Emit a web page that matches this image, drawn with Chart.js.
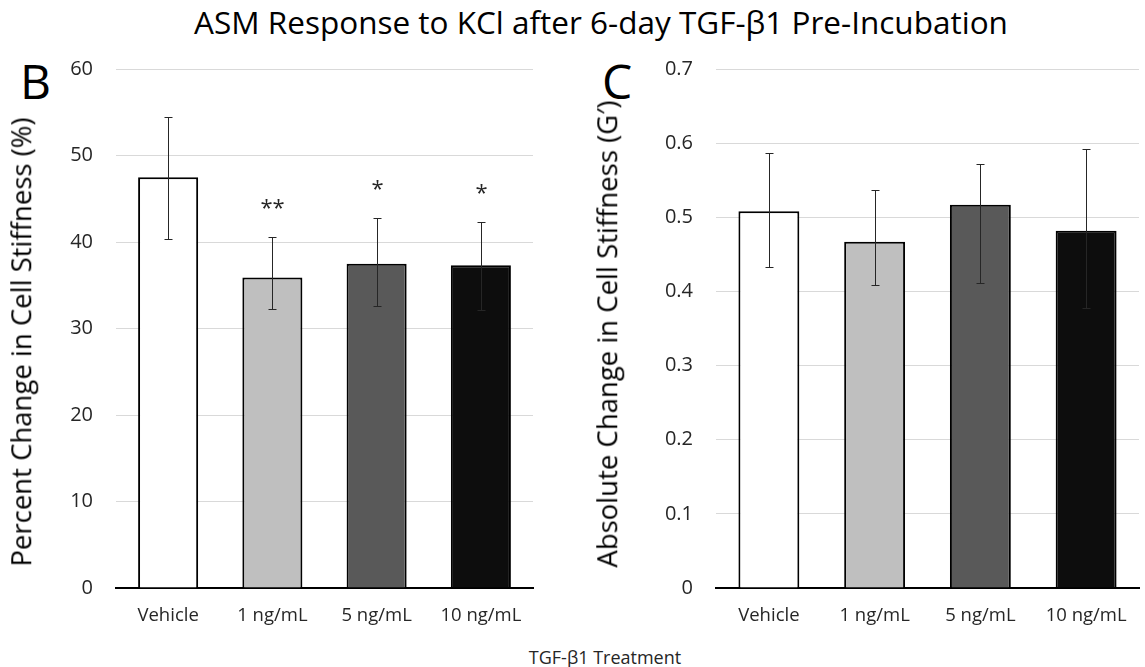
<!DOCTYPE html>
<html>
<head>
<meta charset="utf-8">
<script src="https://cdn.jsdelivr.net/npm/chart.js@4.4.1/dist/chart.umd.min.js"></script>
<style>
  html, body { margin: 0; padding: 0; background: #fff; }
  body { width: 1145px; height: 667px; position: relative; overflow: hidden; font-family: 'Open Sans', sans-serif; color: #000; }
  .title { position: absolute; left: 0; width: 1202px; top: 0px; text-align: center; font-size: 31.5px; white-space: nowrap; }
  .panel { position: absolute; font-size: 48px; line-height: 1; }
  .box { position: absolute; }
  .ytitle { position: absolute; width: 0; height: 0; }
  .ytitle span { position: absolute; left: 0; top: 0; white-space: nowrap; font-size: 27.5px; line-height: 1;
    transform: translate(-50%, -50%) rotate(-90deg); }
  .xtitle { position: absolute; left: 0; width: 1210px; top: 645px; text-align: center; font-size: 18px; color: #262626; }
</style>
</head>
<body>
<div class="title">ASM Response to KCl after 6-day TGF-β1 Pre-Incubation</div>
<div class="panel" style="left:20px;top:57px;">B</div>
<div class="panel" style="left:602px;top:57px;">C</div>
<div class="box" style="left:0px;top:34px;width:545px;height:606px;"><canvas id="pct"></canvas></div>
<div class="box" style="left:590px;top:34px;width:555px;height:606px;"><canvas id="abs"></canvas></div>
<div class="ytitle" style="left:21px;top:342px;"><span>Percent Change in Cell Stiffness (%)</span></div>
<div class="ytitle" style="left:607px;top:334px;"><span>Absolute Change in Cell Stiffness (G′)</span></div>
<div class="xtitle">TGF-β1 Treatment</div>
<script>
var categories = ['Vehicle', '1 ng/mL', '5 ng/mL', '10 ng/mL'];
var barColors = ['#ffffff', '#bfbfbf', '#595959', '#0d0d0d'];

// percent change: mean, error above, error below
var pctChange = [47.5, 35.9, 37.5, 37.3];
var pctErrUp = [6.9, 4.7, 5.3, 5.05];
var pctErrDown = [7.1, 3.7, 4.9, 5.2];
var pctMarks = ['', '**', '*', '*'];

// absolute change (G')
var absChange = [0.508, 0.467, 0.517, 0.482];
var absErrUp = [0.079, 0.070, 0.055, 0.1095];
var absErrDown = [0.075, 0.059, 0.106, 0.104];

Chart.defaults.font.family = "'Open Sans', sans-serif";
Chart.defaults.color = '#262626';

// whiskers + significance stars on top of the bars
var errorBars = {
	id: 'errorBars',
	afterDatasetsDraw: function(chart, args, opts) {
		var ctx = chart.ctx,
			y = chart.scales.y,
			meta = chart.getDatasetMeta(0);
		ctx.save();
		ctx.strokeStyle = '#262626';
		ctx.lineWidth = 1;
		meta.data.forEach(function(bar, i) {
			var v = opts.values[i];
			var top = Math.round(y.getPixelForValue(v + opts.up[i])) + 0.5,
				bot = Math.round(y.getPixelForValue(v - opts.down[i])) + 0.5,
				cx = Math.round(bar.x) + 0.5;
			ctx.beginPath();
			ctx.moveTo(cx, top);
			ctx.lineTo(cx, bot);
			ctx.moveTo(cx - 4, top);
			ctx.lineTo(cx + 4, top);
			ctx.moveTo(cx - 4, bot);
			ctx.lineTo(cx + 4, bot);
			ctx.stroke();
			if (opts.marks && opts.marks[i]) {
				ctx.font = "22px 'Open Sans'";
				ctx.fillStyle = '#262626';
				ctx.textAlign = 'center';
				ctx.textBaseline = 'middle';
				ctx.fillText(opts.marks[i], cx, top - 29);
			}
		});
		ctx.restore();
	}
};

function makeChart(id, values, up, down, marks, yOpts) {
	return new Chart(document.getElementById(id), {
		type: 'bar',
		data: {
			labels: categories,
			datasets: [{
				data: values,
				backgroundColor: barColors,
				borderColor: '#000',
				borderWidth: 2,
				barPercentage: 0.576,
				categoryPercentage: 1
			}]
		},
		plugins: [errorBars],
		options: {
			responsive: true,
			maintainAspectRatio: false,
			animation: false,
			layout: { padding: { top: 5, right: yOpts.padRight, bottom: 0, left: 0 } },
			plugins: {
				legend: { display: false },
				tooltip: { enabled: false },
				errorBars: { values: values, up: up, down: down, marks: marks }
			},
			scales: {
				x: {
					grid: { display: false, drawTicks: false },
					border: { display: true, color: '#000', width: 2 },
					ticks: { font: { size: 18.5 }, padding: 17, color: '#262626', maxRotation: 0 },
					afterFit: function(s) { s.height = 52; }
				},
				y: {
					min: 0,
					max: yOpts.max,
					grid: { color: '#d9d9d9', lineWidth: 1, drawTicks: false },
					border: { display: false },
					ticks: { stepSize: yOpts.step, font: { size: 20 }, padding: 23, color: '#262626' },
					afterFit: function(s) { s.width = yOpts.axisWidth; }
				}
			}
		}
	});
}

makeChart('pct', pctChange, pctErrUp, pctErrDown, pctMarks, {
	max: 60, step: 10, axisWidth: 116, padRight: 12
});
makeChart('abs', absChange, absErrUp, absErrDown, null, {
	max: 0.7, step: 0.1, axisWidth: 126, padRight: 6
});
</script>
</body>
</html>
